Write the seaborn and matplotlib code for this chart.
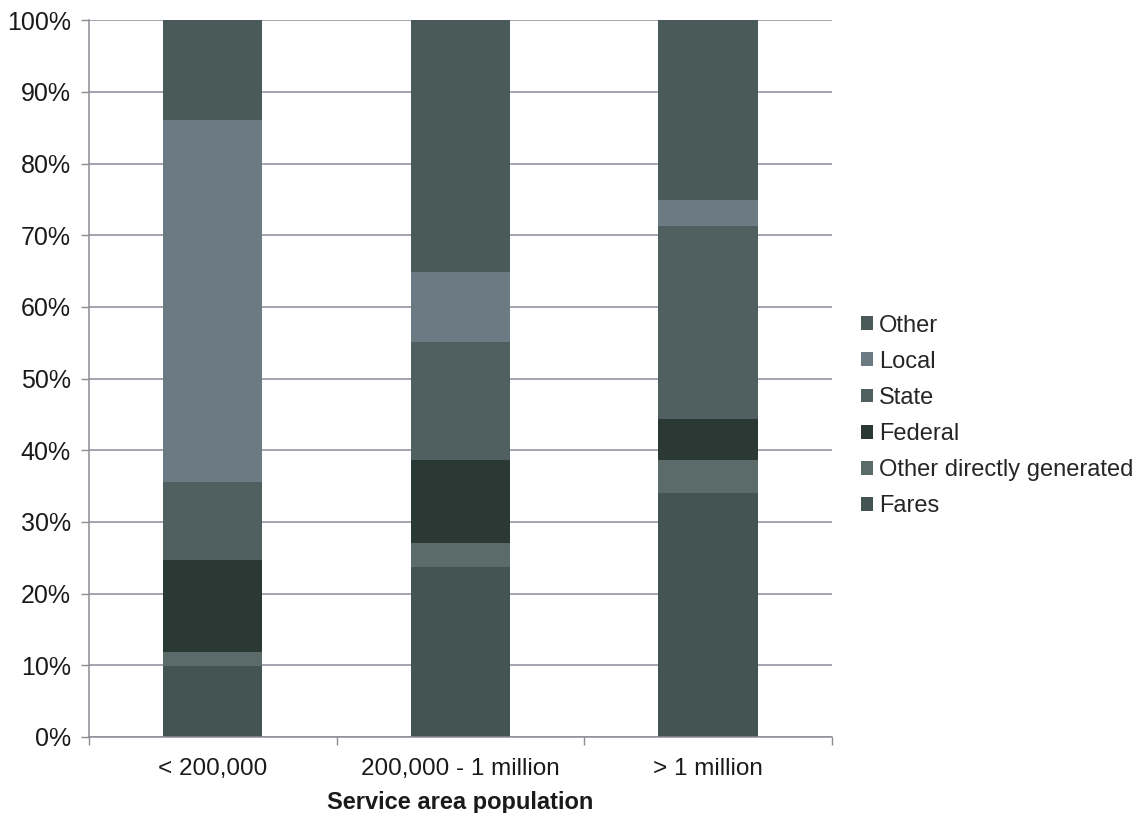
import numpy as np
import pandas as pd
import matplotlib
matplotlib.use("Agg")
import matplotlib.pyplot as plt
import seaborn as sns
from matplotlib.ticker import FixedLocator, PercentFormatter

categories = ["< 200,000", "200,000 - 1 million", "> 1 million"]
series_names = ["Fares", "Other directly generated", "Federal", "State", "Local", "Other"]
fares = [9.9, 23.7, 34.1]
other_direct = [2.0, 3.3, 4.5]
federal = [12.8, 11.6, 5.8]
state = [10.9, 16.5, 26.9]
local = [50.5, 9.8, 3.6]
other = [13.9, 35.1, 25.1]
series_values = [fares, other_direct, federal, state, local, other]
colors = ["#435452", "#5b6b6a", "#2b3935", "#506060", "#6c7a84", "#4a5a59"]

sns.set_theme(style="white")
plt.rcParams['font.family'] = ['Liberation Sans', 'DejaVu Sans']

fig = plt.figure(figsize=(11.41, 8.13), dpi=100)
ax = fig.add_axes([0.078, 0.0935, 0.651, 0.8815])

bottom = np.zeros(len(categories))
for name, vals, col in zip(series_names, series_values, colors):
    sns.barplot(x=categories, y=vals, bottom=bottom, color=col, width=0.4,
                errorbar=None, ax=ax, label=name, saturation=1, linewidth=0)
    bottom = bottom + np.array(vals)

ax.set_ylim(0, 100)
ax.set_xlim(-0.5, 2.5)
ax.yaxis.set_major_locator(FixedLocator(np.arange(0, 101, 10)))
ax.yaxis.set_major_formatter(PercentFormatter(decimals=0))
ax.grid(axis="y", color="#8c8c9c", linewidth=1.1)
ax.set_axisbelow(True)
for s in ["top", "right"]:
    ax.spines[s].set_visible(False)
for s in ["left", "bottom"]:
    ax.spines[s].set_color("#8c8c94")
    ax.spines[s].set_linewidth(1.1)

ax.tick_params(axis="y", which="major", left=True, length=6, width=1.0, color="#8c8c94",
               labelsize=18, labelcolor="#1a1a1a", pad=7)
ax.tick_params(axis="x", which="major", bottom=False, length=0, labelsize=17.5,
               labelcolor="#1a1a1a", pad=15)
ax.xaxis.set_minor_locator(FixedLocator([-0.5, 0.5, 1.5, 2.5]))
ax.tick_params(axis="x", which="minor", bottom=True, length=6, width=1.0, color="#8c8c94")
ax.set_ylabel("")
ax.set_xlabel("Service area population", fontsize=17, fontweight="bold", color="#1a1a1a", labelpad=8)

handles, labels = ax.get_legend_handles_labels()
leg = ax.legend(handles[::-1], labels[::-1], loc="center left", bbox_to_anchor=(1.026, 0.448),
                frameon=False, fontsize=17, handlelength=0.53, handleheight=0.53,
                handletextpad=0.25, labelspacing=0.6, borderaxespad=0)

fig.savefig("out.png", dpi=100, facecolor="white")
